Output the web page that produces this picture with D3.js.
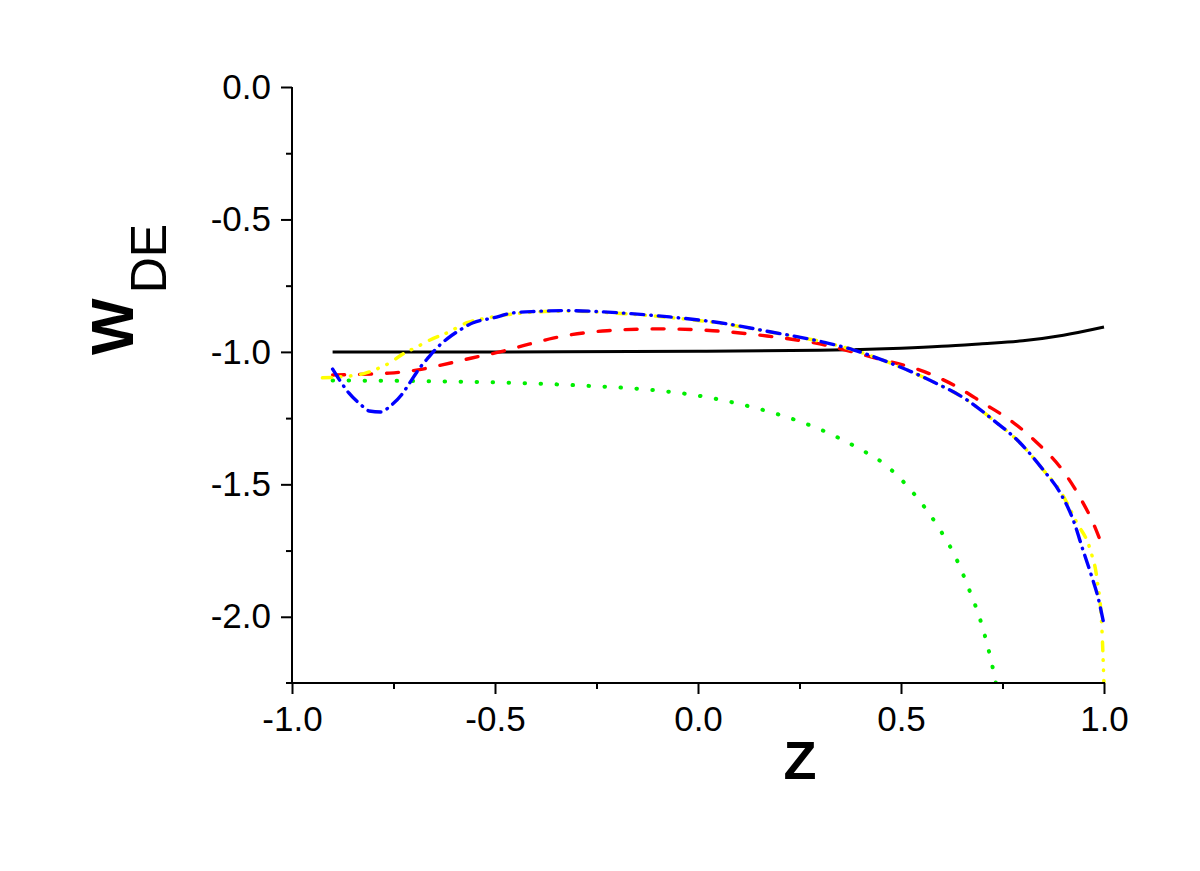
<!DOCTYPE html>
<html>
<head>
<meta charset="utf-8">
<script src="https://cdn.jsdelivr.net/npm/d3@7"></script>
<style>
  html, body { margin: 0; padding: 0; background: #fff; }
  svg { display: block; }
  text { font-family: "Liberation Sans", Arial, sans-serif; }
</style>
</head>
<body>
<script>
// ---- data ----
const xTicks = [-1.0, -0.5, 0.0, 0.5, 1.0];
const xMinorTicks = [-0.75, -0.25, 0.25, 0.75];
const yTicks = [0.0, -0.5, -1.0, -1.5, -2.0];
const yMinorTicks = [-0.25, -0.75, -1.25, -1.75];
const xLabel = "Z";
const yLabelMain = "W";
const yLabelSub = "DE";

const blackZ = [-0.9, -0.5, 0.0, 0.3, 0.4, 0.5, 0.6, 0.7, 0.8, 0.9, 1.0];
const blackW = [-1.0, -1.0, -0.998, -0.994, -0.991, -0.986, -0.979, -0.969, -0.958, -0.937, -0.906];

const greenZ = [-0.9, -0.7, -0.5, -0.3, -0.1, 0.0, 0.1, 0.2, 0.3, 0.4, 0.456, 0.53, 0.59, 0.635, 0.668, 0.697, 0.727, 0.735];
const greenW = [-1.108, -1.11, -1.115, -1.126, -1.146, -1.165, -1.196, -1.237, -1.292, -1.368, -1.42, -1.532, -1.657, -1.777, -1.898, -2.02, -2.2, -2.26];

const redZ = [-0.9, -0.76, -0.69, -0.63, -0.557, -0.488, -0.414, -0.357, -0.224, -0.094, 0.037, 0.17, 0.3, 0.424, 0.571, 0.638, 0.702, 0.768, 0.835, 0.897, 0.94, 0.973, 1.0];
const redW = [-1.087, -1.08, -1.068, -1.049, -1.023, -1.0, -0.97, -0.948, -0.92, -0.913, -0.92, -0.94, -0.97, -1.018, -1.083, -1.132, -1.193, -1.257, -1.343, -1.445, -1.547, -1.645, -1.75];

const blueZ = [-0.9, -0.88, -0.86, -0.83, -0.81, -0.78, -0.76, -0.73, -0.71, -0.685, -0.665, -0.643, -0.618, -0.586, -0.554, -0.505, -0.456, -0.397, -0.33, -0.19, -0.07, 0.054, 0.177, 0.3, 0.382, 0.465, 0.575, 0.662, 0.727, 0.793, 0.85, 0.892, 0.924, 0.948, 0.97, 0.985, 1.0];
const blueW = [-1.065, -1.113, -1.155, -1.2, -1.223, -1.227, -1.207, -1.162, -1.117, -1.06, -1.023, -0.985, -0.951, -0.917, -0.89, -0.872, -0.853, -0.847, -0.844, -0.853, -0.868, -0.89, -0.924, -0.96, -0.992, -1.037, -1.11, -1.181, -1.257, -1.343, -1.445, -1.532, -1.634, -1.747, -1.849, -1.925, -2.03];

const yellowZ = [-0.925, -0.882, -0.825, -0.79, -0.76, -0.727, -0.692, -0.66, -0.618, -0.569, -0.52, -0.456, -0.397, -0.33, -0.19, -0.07, 0.054, 0.177, 0.3, 0.382, 0.465, 0.575, 0.662, 0.727, 0.793, 0.85, 0.895, 0.933, 0.966, 0.983, 0.995, 1.0];
const yellowW = [-1.098, -1.094, -1.083, -1.064, -1.042, -1.008, -0.981, -0.955, -0.928, -0.89, -0.872, -0.857, -0.849, -0.846, -0.855, -0.87, -0.892, -0.925, -0.96, -0.992, -1.037, -1.11, -1.181, -1.257, -1.343, -1.445, -1.532, -1.645, -1.747, -1.86, -2.05, -2.26];

const series = [
  { z: greenZ, w: greenW, color: "#00ee00", dash: "0.5,15.5", width: 4, cap: "round" },
  { z: blackZ, w: blackW, color: "#000000", dash: null, width: 3, cap: "butt" },
  { z: redZ, w: redW, color: "#ff0000", dash: "12,15", width: 3.4, cap: "round" },
  { z: yellowZ, w: yellowW, color: "#ffff00", dash: "9,9,0.5,9.5,0.5,10", width: 3.5, cap: "round" },
  { z: blueZ, w: blueW, color: "#0000ff", dash: "13,7,0.5,7", width: 3.4, cap: "round" }
];

// ---- layout ----
const W = 1200, H = 871;
const mLeft = 292, mRight = 1104, mTop = 87, mBottom = 683;

const svg = d3.select("body").append("svg").attr("width", W).attr("height", H);

const x = d3.scaleLinear().domain([-1, 1]).range([mLeft, mRight]);
const y = d3.scaleLinear().domain([-2.25, 0]).range([mBottom, mTop]);

svg.append("defs").append("clipPath").attr("id", "plot")
  .append("rect").attr("x", mLeft).attr("y", mTop - 5).attr("width", mRight - mLeft + 4).attr("height", mBottom - mTop + 5);

const line = d3.line().x(d => x(d[0])).y(d => y(d[1])).curve(d3.curveMonotoneX);

const g = svg.append("g").attr("clip-path", "url(#plot)");
series.forEach(s => {
  const pts = s.z.map((z, i) => [z, s.w[i]]);
  g.append("path")
    .attr("d", line(pts))
    .attr("fill", "none")
    .attr("stroke", s.color)
    .attr("stroke-width", s.width)
    .attr("stroke-linecap", s.cap)
    .attr("stroke-linejoin", "round")
    .attr("stroke-dasharray", s.dash);
});

// ---- axes ----
const fmt = d => d3.format(".1f")(d).replace("−", "-");

const xAxis = d3.axisBottom(x).tickValues(xTicks).tickSize(11).tickPadding(12).tickFormat(fmt);
const xAx = svg.append("g").attr("transform", `translate(0,${mBottom})`).call(xAxis);
xAx.select(".domain").remove();
xAx.selectAll(".tick line").attr("stroke", "#000").attr("stroke-width", 2);
xAx.selectAll(".tick text").attr("font-size", 35).attr("fill", "#000")
  .attr("font-family", "Liberation Sans, Arial, sans-serif");

const xMinor = d3.axisBottom(x).tickValues(xMinorTicks).tickSize(6).tickFormat("");
const xMi = svg.append("g").attr("transform", `translate(0,${mBottom})`).call(xMinor);
xMi.select(".domain").remove();
xMi.selectAll(".tick line").attr("stroke", "#000").attr("stroke-width", 2);

const yAxis = d3.axisLeft(y).tickValues(yTicks).tickSize(11).tickPadding(10).tickFormat(fmt);
const yAx = svg.append("g").attr("transform", `translate(${mLeft},0)`).call(yAxis);
yAx.select(".domain").remove();
yAx.selectAll(".tick line").attr("stroke", "#000").attr("stroke-width", 2);
yAx.selectAll(".tick text").attr("font-size", 35).attr("fill", "#000")
  .attr("font-family", "Liberation Sans, Arial, sans-serif");

const yMinor = d3.axisLeft(y).tickValues(yMinorTicks).tickSize(6).tickFormat("");
const yMi = svg.append("g").attr("transform", `translate(${mLeft},0)`).call(yMinor);
yMi.select(".domain").remove();
yMi.selectAll(".tick line").attr("stroke", "#000").attr("stroke-width", 2);

// axis lines
svg.append("line").attr("x1", mLeft).attr("x2", mLeft).attr("y1", mTop).attr("y2", mBottom + 1)
  .attr("stroke", "#000").attr("stroke-width", 2);
svg.append("line").attr("x1", mLeft - 6).attr("x2", mRight + 1).attr("y1", mBottom).attr("y2", mBottom)
  .attr("stroke", "#000").attr("stroke-width", 2);

// ---- axis titles ----
svg.append("text").attr("x", 800).attr("y", 779).attr("text-anchor", "middle")
  .attr("font-size", 54).attr("font-weight", "bold").attr("fill", "#000").text(xLabel);

const yl = svg.append("text").attr("transform", "translate(133,355) rotate(-90)")
  .attr("fill", "#000");
yl.append("tspan").attr("font-size", 60).attr("font-weight", "bold").text(yLabelMain);
yl.append("tspan").attr("font-size", 50).attr("dy", 33).attr("dx", 5).text(yLabelSub);
</script>
</body>
</html>
